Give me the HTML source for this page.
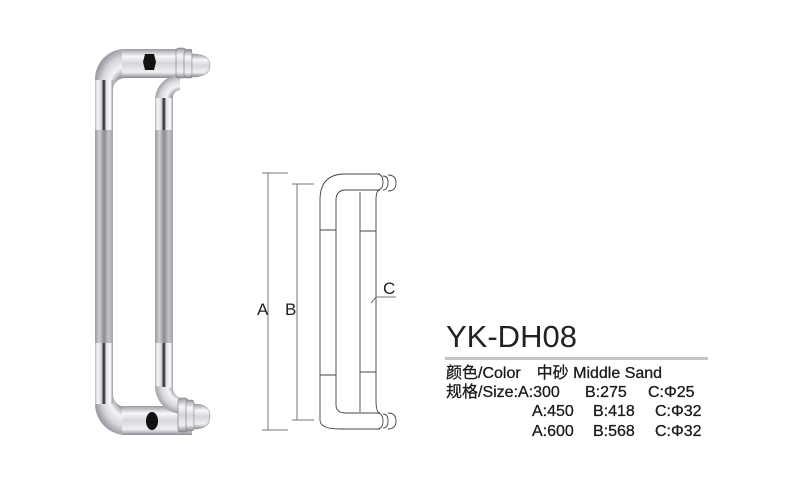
<!DOCTYPE html>
<html><head><meta charset="utf-8"><style>
body{margin:0;background:#fff;width:800px;height:480px;overflow:hidden;font-family:"Liberation Sans","Noto Sans CJK SC",sans-serif}
svg{position:absolute;left:0;top:0}
</style></head><body>
<svg width="800" height="480" viewBox="0 0 800 480">
<defs>
<linearGradient id="tube" x1="0" x2="1" y1="0" y2="0">
<stop offset="0" stop-color="#b8b8c0"/><stop offset="0.15" stop-color="#f8f8fa"/><stop offset="0.35" stop-color="#d8d8de"/><stop offset="0.5" stop-color="#1a1a1e"/><stop offset="0.62" stop-color="#e0e0e6"/><stop offset="0.85" stop-color="#fafafc"/><stop offset="1" stop-color="#9a9aa2"/>
</linearGradient>
<linearGradient id="sand" x1="0" x2="1">
<stop offset="0" stop-color="#9a9aa0"/><stop offset="0.25" stop-color="#cfcfd3"/><stop offset="0.5" stop-color="#8a8a90"/><stop offset="0.75" stop-color="#c4c4c8"/><stop offset="1" stop-color="#a4a4a8"/>
</linearGradient>
<linearGradient id="bar" x1="0" x2="0" y1="0" y2="1">
<stop offset="0" stop-color="#9a9aa2"/><stop offset="0.25" stop-color="#f8f8fa"/><stop offset="0.5" stop-color="#d6d6dc"/><stop offset="0.8" stop-color="#f0f0f4"/><stop offset="1" stop-color="#8a8a92"/>
</linearGradient>
<radialGradient id="bend" cx="1" cy="1" r="1">
<stop offset="0.3" stop-color="#888890"/><stop offset="0.55" stop-color="#f4f4f6"/><stop offset="0.8" stop-color="#d4d4da"/><stop offset="1" stop-color="#a0a0a8"/>
</radialGradient>
<radialGradient id="bendB" cx="1" cy="0" r="1">
<stop offset="0.3" stop-color="#888890"/><stop offset="0.55" stop-color="#f4f4f6"/><stop offset="0.8" stop-color="#d4d4da"/><stop offset="1" stop-color="#a0a0a8"/>
</radialGradient>
</defs>
<!-- back handle -->
<path d="M95 80 A30 30 0 0 1 125 49 L125 78 A12 12 0 0 0 113 90 L113 80 Z" fill="url(#bend)"/>
<rect x="95" y="80" width="18" height="325" fill="url(#tube)"/>
<rect x="95" y="130" width="18" height="213" fill="url(#sand)"/>
<path d="M95 404 A31 31 0 0 0 126 435 L126 407 A13 13 0 0 1 113 394 L113 404 Z" fill="url(#bendB)"/>
<rect x="122" y="49" width="70" height="29" fill="url(#bar)"/>
<rect x="122" y="406" width="70" height="29" fill="url(#bar)"/>
<path d="M145 54 L154 54 L156 62 L154 70 L145 70 L143 62 Z" fill="#111"/>
<ellipse cx="152" cy="421" rx="6" ry="9" fill="#111"/>
<!-- front handle -->
<path d="M155 100 A25 25 0 0 1 180 75 L180 90 A8 8 0 0 0 173 100 Z" fill="url(#bend)"/>
<rect x="155" y="98" width="18" height="290" fill="url(#tube)"/>
<rect x="155" y="130" width="18" height="213" fill="url(#sand)"/>
<path d="M155 386 A28 28 0 0 0 183 414 L183 398 A10 10 0 0 1 173 388 Z" fill="url(#bendB)"/>
<rect x="176" y="48" width="10" height="30" rx="3" fill="url(#bar)" stroke="#777" stroke-width="0.6"/>
<rect x="184" y="50" width="8" height="28" rx="3" fill="url(#bar)" stroke="#777" stroke-width="0.6"/>
<path d="M192 54 Q210 54 210 65 Q210 77 192 77 Z" fill="url(#bar)" stroke="#999" stroke-width="0.6"/>
<rect x="178" y="398" width="10" height="34" rx="3" fill="url(#bar)" stroke="#777" stroke-width="0.6"/>
<rect x="186" y="400" width="8" height="31" rx="3" fill="url(#bar)" stroke="#777" stroke-width="0.6"/>
<path d="M194 404 Q210 404 210 416 Q210 429 194 429 Z" fill="url(#bar)" stroke="#999" stroke-width="0.6"/>
<!-- line drawing -->
<g fill="none" stroke="#444" stroke-width="0.9">
<path d="M320 420 L320 200 Q320 174 345 174 L380 174"/>
<path d="M336 405 L336 200 Q336 190 346 190 L380 190"/>
<path d="M320 420 Q320 429 340 429 L380 429"/>
<path d="M336 405 Q336 413 346 413 L380 413"/>
<path d="M360 192 L360 412"/>
<path d="M376 200 Q376 190 380 190 M376 200 L376 400 Q376 413 380 413"/>
<path d="M320 230 L336 230 M360 231 L376 231 M320 375 L336 375 M360 372 L376 372"/>
<path d="M377 174 Q383 174 383 182 Q383 190 377 190 M383 176 Q388 176 388 182 Q388 190 383 190 M388 175 Q396 175 396 183 Q396 191 388 191"/>
<path d="M377 413 Q383 413 383 421 Q383 429 377 429 M383 414 Q388 414 388 421 Q388 428 383 428 M388 413 Q396 413 396 421 Q396 429 388 429"/>
</g>
<g stroke="#777" stroke-width="1">
<line x1="268" y1="173" x2="268" y2="430"/><line x1="262" y1="173" x2="288" y2="173"/><line x1="262" y1="430" x2="288" y2="430"/>
<line x1="297" y1="184" x2="297" y2="420"/><line x1="292" y1="184" x2="314" y2="184"/><line x1="292" y1="420" x2="314" y2="420"/>
<line x1="376" y1="297" x2="396" y2="297"/><line x1="371" y1="303" x2="376" y2="297"/>
</g>
<g font-family="Liberation Sans, sans-serif" font-size="17" fill="#222">
<text x="257" y="315">A</text><text x="285" y="315">B</text><text x="383" y="294">C</text>
</g>
<text x="446" y="347" font-size="31" fill="#222" font-family="Liberation Sans, sans-serif">YK-DH08</text>
<rect x="445" y="357" width="263" height="3" fill="#c4c4c4"/>
<g font-size="16" fill="#1a1a1a" stroke="#1a1a1a" stroke-width="0.3" font-family="Liberation Sans, Noto Sans CJK SC, sans-serif">
<text x="446" y="378">颜色/Color　中砂  Middle Sand</text>
<text x="446" y="397">规格/Size:A:300</text><text x="585" y="397">B:275</text><text x="648" y="397">C:Φ25</text>
<text x="532" y="416">A:450</text><text x="593" y="416">B:418</text><text x="655" y="416">C:Φ32</text>
<text x="532" y="436">A:600</text><text x="593" y="436">B:568</text><text x="655" y="436">C:Φ32</text>
</g>
</svg>
</body></html>
